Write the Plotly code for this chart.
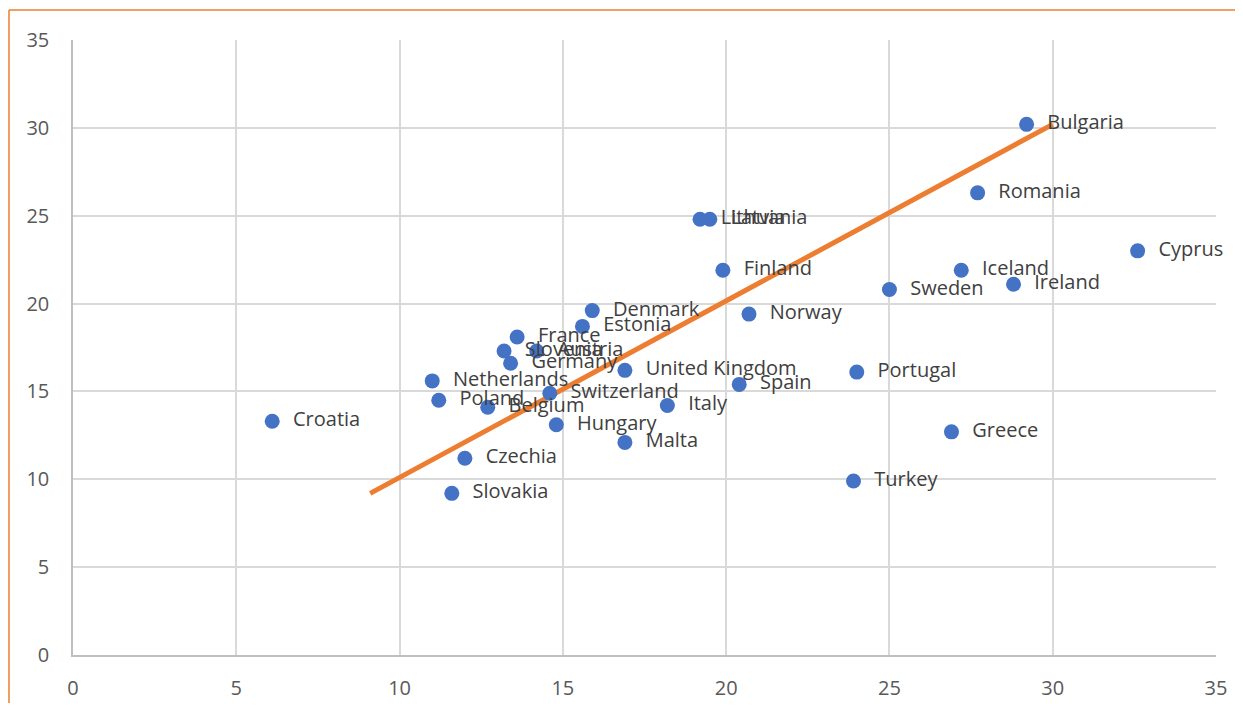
import plotly.graph_objects as go

countries = ["Croatia", "Bulgaria", "Romania", "Cyprus", "Iceland", "Ireland", "Sweden",
             "Portugal", "Greece", "Turkey", "Lithuania", "Latvia", "Finland", "Norway",
             "Spain", "Italy", "Malta", "United Kingdom", "Denmark", "Estonia", "France",
             "Slovenia", "Austria", "Germany", "Netherlands", "Poland", "Belgium",
             "Switzerland", "Hungary", "Czechia", "Slovakia"]
x_vals = [6.1, 29.2, 27.7, 32.6, 27.2, 28.8, 25.0,
          24.0, 26.9, 23.9, 19.2, 19.5, 19.9, 20.7,
          20.4, 18.2, 16.9, 16.9, 15.9, 15.6, 13.6,
          13.2, 14.2, 13.4, 11.0, 11.2, 12.7,
          14.6, 14.8, 12.0, 11.6]
y_vals = [13.3, 30.2, 26.3, 23.0, 21.9, 21.1, 20.8,
          16.1, 12.7, 9.9, 24.8, 24.8, 21.9, 19.4,
          15.4, 14.2, 12.1, 16.2, 19.6, 18.7, 18.1,
          17.3, 17.3, 16.6, 15.6, 14.5, 14.1,
          14.9, 13.1, 11.2, 9.2]
trend_x = [9.1, 30.0]
trend_y = [9.2, 30.2]
ticks = [0, 5, 10, 15, 20, 25, 30, 35]

fig = go.Figure()
fig.add_trace(go.Scatter(x=trend_x, y=trend_y, mode="lines",
                         line=dict(color="#ED7D31", width=5), hoverinfo="skip"))
fig.add_trace(go.Scatter(x=x_vals, y=y_vals, mode="markers+text",
                         text=["  " + c for c in countries], textposition="middle right",
                         textfont=dict(family="Open Sans", size=20, color="#404040"),
                         marker=dict(color="#4472C4", size=15), cliponaxis=False))

axis_common = dict(range=[0, 35], tickvals=ticks, showgrid=True, gridcolor="#D9D9D9",
                   gridwidth=1.5, zeroline=False, showline=True, linecolor="#BFBFBF",
                   linewidth=1.5, tickfont=dict(family="Open Sans", size=20, color="#595959"),
                   fixedrange=True, automargin=False, ticks="")
fig.update_xaxes(**axis_common, ticklabelstandoff=14)
fig.update_yaxes(**axis_common, ticklabelstandoff=18)

# chart outer border (orange)
fig.add_shape(type="line", xref="paper", yref="paper", x0=-0.056, x1=-0.056, y0=-0.2, y1=1.0488,
              line=dict(color="#ED7D31", width=1.5))
fig.add_shape(type="line", xref="paper", yref="paper", x0=-0.056, x1=1.1, y0=1.0488, y1=1.0488,
              line=dict(color="#ED7D31", width=1.5))

fig.update_layout(width=1227, height=695, showlegend=False,
                  margin=dict(l=65, r=19, t=32, b=48),
                  plot_bgcolor="white", paper_bgcolor="white")
fig.write_html("out.html")
